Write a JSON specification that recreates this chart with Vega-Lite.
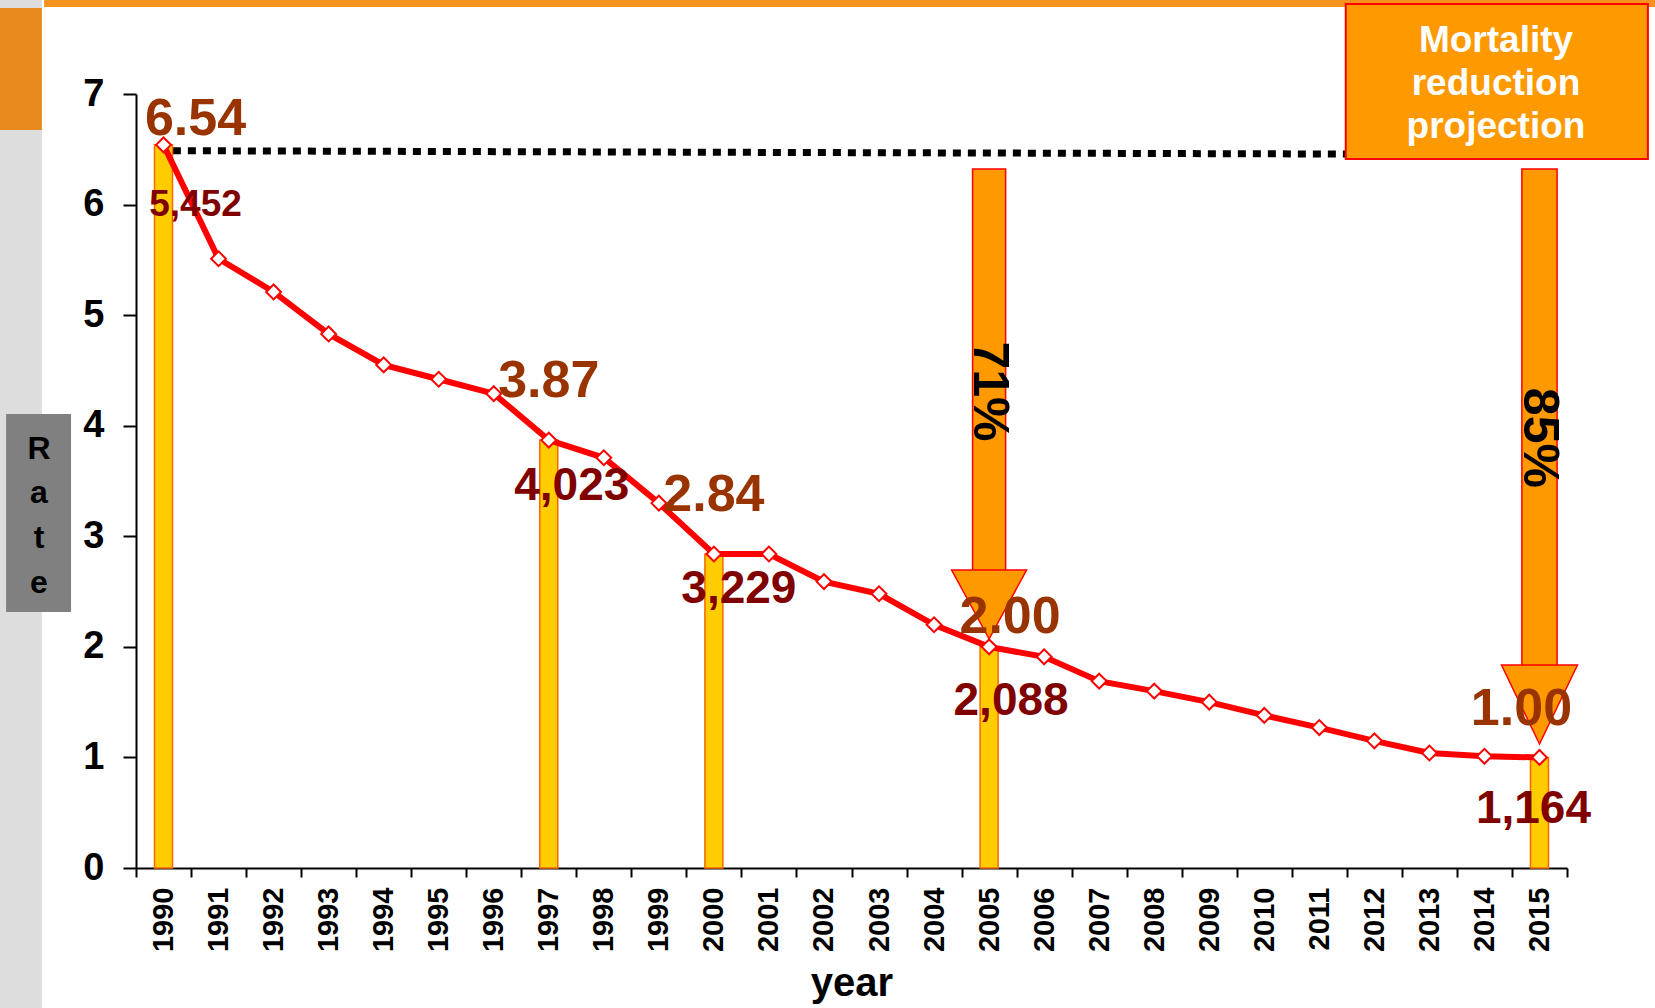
{
  "$schema": "https://vega.github.io/schema/vega-lite/v6.json",
  "width": 1431,
  "height": 774,
  "autosize": {"type": "none"},
  "padding": {"left": 136, "top": 94, "right": 88, "bottom": 140},
  "background": "#ffffff",
  "config": {"view": {"stroke": null}, "font": "Liberation Sans"},
  "datasets": {
    "rates": [
      {"year": 1990, "rate": 6.54}, {"year": 1991, "rate": 5.51}, {"year": 1992, "rate": 5.21},
      {"year": 1993, "rate": 4.83}, {"year": 1994, "rate": 4.55}, {"year": 1995, "rate": 4.42},
      {"year": 1996, "rate": 4.29}, {"year": 1997, "rate": 3.87}, {"year": 1998, "rate": 3.71},
      {"year": 1999, "rate": 3.30}, {"year": 2000, "rate": 2.84}, {"year": 2001, "rate": 2.84},
      {"year": 2002, "rate": 2.59}, {"year": 2003, "rate": 2.48}, {"year": 2004, "rate": 2.20},
      {"year": 2005, "rate": 2.00}, {"year": 2006, "rate": 1.91}, {"year": 2007, "rate": 1.69},
      {"year": 2008, "rate": 1.60}, {"year": 2009, "rate": 1.50}, {"year": 2010, "rate": 1.38},
      {"year": 2011, "rate": 1.27}, {"year": 2012, "rate": 1.15}, {"year": 2013, "rate": 1.04},
      {"year": 2014, "rate": 1.01}, {"year": 2015, "rate": 1.00}
    ],
    "highlights": [
      {"year": 1990, "rate": 6.54, "deaths": 5452},
      {"year": 1997, "rate": 3.87, "deaths": 4023},
      {"year": 2000, "rate": 2.84, "deaths": 3229},
      {"year": 2005, "rate": 2.00, "deaths": 2088},
      {"year": 2015, "rate": 1.00, "deaths": 1164}
    ]
  },
  "layer": [
    {
      "data": {"values": [{}]},
      "layer": [
        {"mark": {"type": "rect", "fill": "#dddddd", "clip": false},
         "encoding": {
           "x": {"datum": 1987.0, "type": "quantitative", "scale": {"domain": [1989.5, 2015.5], "nice": false, "zero": false}, "axis": null},
           "x2": {"datum": 1987.79},
           "y": {"datum": 7.9, "type": "quantitative", "scale": {"domain": [0, 7], "nice": false}, "axis": null},
           "y2": {"datum": -1.3}}},
        {"mark": {"type": "rect", "fill": "#e98a1e", "clip": false},
         "encoding": {
           "x": {"datum": 1987.0, "type": "quantitative", "scale": {"domain": [1989.5, 2015.5], "nice": false, "zero": false}, "axis": null},
           "x2": {"datum": 1987.79},
           "y": {"datum": 7.778, "type": "quantitative", "scale": {"domain": [0, 7], "nice": false}, "axis": null},
           "y2": {"datum": 6.675}}},
        {"mark": {"type": "rect", "fill": "#f5931f", "clip": false},
         "encoding": {
           "x": {"datum": 1987.83, "type": "quantitative", "scale": {"domain": [1989.5, 2015.5], "nice": false, "zero": false}, "axis": null},
           "x2": {"datum": 2017.3},
           "y": {"datum": 7.9, "type": "quantitative", "scale": {"domain": [0, 7], "nice": false}, "axis": null},
           "y2": {"datum": 7.787}}},
        {"mark": {"type": "rect", "fill": "#808080", "clip": false},
         "encoding": {
           "x": {"datum": 1987.14, "type": "quantitative", "scale": {"domain": [1989.5, 2015.5], "nice": false, "zero": false}, "axis": null},
           "x2": {"datum": 1988.32},
           "y": {"datum": 4.106, "type": "quantitative", "scale": {"domain": [0, 7], "nice": false}, "axis": null},
           "y2": {"datum": 2.315}}},
        {"mark": {"type": "rule", "color": "#000000", "strokeWidth": 7, "strokeDash": [8, 7], "strokeCap": "butt", "clip": false},
         "encoding": {
           "x": {"datum": 1990.17, "type": "quantitative", "scale": {"domain": [1989.5, 2015.5], "nice": false, "zero": false}, "axis": null},
           "x2": {"datum": 2011.5},
           "y": {"datum": 6.487, "type": "quantitative", "scale": {"domain": [0, 7], "nice": false}, "axis": null},
           "y2": {"datum": 6.457}}},
        {"mark": {"type": "rect", "fill": "#ff9900", "stroke": "#ff0000", "strokeWidth": 2, "clip": false},
         "encoding": {
           "x": {"datum": 2011.48, "type": "quantitative", "scale": {"domain": [1989.5, 2015.5], "nice": false, "zero": false}, "axis": null},
           "x2": {"datum": 2016.97},
           "y": {"datum": 6.412, "type": "quantitative", "scale": {"domain": [0, 7], "nice": false}, "axis": null},
           "y2": {"datum": 7.814}}},
        {"mark": {"type": "text", "color": "#ffffff", "fontSize": 37, "fontWeight": "bold", "align": "center", "baseline": "alphabetic", "lineHeight": 43, "clip": false},
         "encoding": {
           "x": {"datum": 2014.21, "type": "quantitative", "scale": {"domain": [1989.5, 2015.5], "nice": false, "zero": false}, "axis": null},
           "y": {"datum": 7.38, "type": "quantitative", "scale": {"domain": [0, 7], "nice": false}, "axis": null},
           "text": {"value": ["Mortality", "reduction", "projection"]}}},
        {"mark": {"type": "rect", "fill": "#ff9900", "stroke": "#ff0000", "strokeWidth": 1.5},
         "encoding": {
           "x": {"datum": 2004.7, "type": "quantitative", "scale": {"domain": [1989.5, 2015.5], "nice": false, "zero": false}, "axis": null},
           "x2": {"datum": 2005.3},
           "y": {"datum": 6.322, "type": "quantitative", "scale": {"domain": [0, 7], "nice": false}, "axis": null},
           "y2": {"datum": 2.5}}},
        {"mark": {"type": "point", "filled": true, "fill": "#ff9900", "stroke": "#ff0000", "strokeWidth": 1.5, "opacity": 1, "shape": "M0,0L-1,-1.84L1,-1.84Z", "size": 5625},
         "encoding": {
           "x": {"datum": 2005, "type": "quantitative", "scale": {"domain": [1989.5, 2015.5], "nice": false, "zero": false}, "axis": null},
           "y": {"datum": 2.071, "type": "quantitative", "scale": {"domain": [0, 7], "nice": false}, "axis": null}}},
        {"mark": {"type": "rect", "fill": "#ff9900", "stroke": "#ff0000", "strokeWidth": 1.5},
         "encoding": {
           "x": {"datum": 2014.68, "type": "quantitative", "scale": {"domain": [1989.5, 2015.5], "nice": false, "zero": false}, "axis": null},
           "x2": {"datum": 2015.32},
           "y": {"datum": 6.322, "type": "quantitative", "scale": {"domain": [0, 7], "nice": false}, "axis": null},
           "y2": {"datum": 1.65}}},
        {"mark": {"type": "point", "filled": true, "fill": "#ff9900", "stroke": "#ff0000", "strokeWidth": 1.5, "opacity": 1, "shape": "M0,0L-1,-2.08L1,-2.08Z", "size": 5776},
         "encoding": {
           "x": {"datum": 2015, "type": "quantitative", "scale": {"domain": [1989.5, 2015.5], "nice": false, "zero": false}, "axis": null},
           "y": {"datum": 1.121, "type": "quantitative", "scale": {"domain": [0, 7], "nice": false}, "axis": null}}},
        {"mark": {"type": "text", "color": "#000000", "fontSize": 50, "fontWeight": "bold", "align": "center", "baseline": "middle", "angle": 90},
         "encoding": {
           "x": {"datum": 2005, "type": "quantitative", "scale": {"domain": [1989.5, 2015.5], "nice": false, "zero": false}, "axis": null},
           "y": {"datum": 4.31, "type": "quantitative", "scale": {"domain": [0, 7], "nice": false}, "axis": null},
           "text": {"value": "71%"}}},
        {"mark": {"type": "text", "color": "#000000", "fontSize": 50, "fontWeight": "bold", "align": "center", "baseline": "middle", "angle": 90},
         "encoding": {
           "x": {"datum": 2015, "type": "quantitative", "scale": {"domain": [1989.5, 2015.5], "nice": false, "zero": false}, "axis": null},
           "y": {"datum": 3.89, "type": "quantitative", "scale": {"domain": [0, 7], "nice": false}, "axis": null},
           "text": {"value": "85%"}}}
      ]
    },
    {
      "encoding": {
        "x": {"field": "year", "type": "ordinal",
              "scale": {"type": "band", "paddingInner": 0, "paddingOuter": 0},
              "axis": {"title": "year", "titleFontSize": 40, "titleFontWeight": "bold", "titleColor": "#000000",
                       "titleY": 127, "titleBaseline": "alphabetic",
                       "labelAngle": 270, "labelFontSize": 29, "labelFontWeight": "bold", "labelColor": "#000000",
                       "labelPadding": 10, "tickBand": "extent", "tickSize": 9, "tickColor": "#000000", "tickWidth": 2,
                       "domainColor": "#000000", "domainWidth": 2, "grid": false}},
        "y": {"field": "rate", "type": "quantitative",
              "scale": {"domain": [0, 7], "nice": false},
              "axis": {"title": ["R", "a", "t", "e"], "titleAngle": 0, "titleFontSize": 32, "titleFontWeight": "bold",
                       "titleColor": "#000000", "titleX": -97.5, "titleY": 364, "titleAlign": "center",
                       "titleBaseline": "alphabetic", "titleLineHeight": 44.7,
                       "values": [0, 1, 2, 3, 4, 5, 6, 7], "labelFontSize": 38, "labelFontWeight": "bold",
                       "labelColor": "#000000", "labelPadding": 19, "tickSize": 13, "tickColor": "#000000",
                       "tickWidth": 2, "domainColor": "#000000", "domainWidth": 2, "grid": false, "zindex": 1}}
      },
      "layer": [
        {"data": {"name": "highlights"},
         "mark": {"type": "bar", "size": 18, "fill": "#ffcc00", "stroke": "#ff6600", "strokeWidth": 1.5}},
        {"data": {"name": "rates"},
         "mark": {"type": "line", "color": "#ff0000", "strokeWidth": 6}},
        {"data": {"name": "rates"},
         "mark": {"type": "point", "shape": "diamond", "filled": true, "fill": "#ffffff", "stroke": "#ff0000", "strokeWidth": 2, "size": 220, "opacity": 1}},
        {"data": {"name": "highlights"}, "transform": [{"filter": "datum.year == 1990"}],
         "mark": {"type": "text", "color": "#993300", "fontSize": 52, "fontWeight": "bold", "align": "center", "baseline": "alphabetic", "dx": 32, "dy": -10},
         "encoding": {"text": {"field": "rate", "format": ".2f"}}},
        {"data": {"name": "highlights"}, "transform": [{"filter": "datum.year == 1997 || datum.year == 2000"}],
         "mark": {"type": "text", "color": "#993300", "fontSize": 52, "fontWeight": "bold", "align": "center", "baseline": "alphabetic", "dx": 0, "dy": -43},
         "encoding": {"text": {"field": "rate", "format": ".2f"}}},
        {"data": {"name": "highlights"}, "transform": [{"filter": "datum.year == 2005"}],
         "mark": {"type": "text", "color": "#993300", "fontSize": 52, "fontWeight": "bold", "align": "center", "baseline": "alphabetic", "dx": 21, "dy": -14},
         "encoding": {"text": {"field": "rate", "format": ".2f"}}},
        {"data": {"name": "highlights"}, "transform": [{"filter": "datum.year == 2015"}],
         "mark": {"type": "text", "color": "#993300", "fontSize": 52, "fontWeight": "bold", "align": "center", "baseline": "alphabetic", "dx": -18, "dy": -32},
         "encoding": {"text": {"field": "rate", "format": ".2f"}}},
        {"data": {"name": "highlights"}, "transform": [{"filter": "datum.year == 1990"}],
         "mark": {"type": "text", "color": "#800000", "fontSize": 37, "fontWeight": "bold", "align": "center", "baseline": "alphabetic", "dx": 32, "dy": 71},
         "encoding": {"text": {"field": "deaths", "format": ","}}},
        {"data": {"name": "highlights"}, "transform": [{"filter": "datum.year == 1997"}],
         "mark": {"type": "text", "color": "#800000", "fontSize": 46, "fontWeight": "bold", "align": "center", "baseline": "alphabetic", "dx": 23, "dy": 60},
         "encoding": {"text": {"field": "deaths", "format": ","}}},
        {"data": {"name": "highlights"}, "transform": [{"filter": "datum.year == 2000"}],
         "mark": {"type": "text", "color": "#800000", "fontSize": 46, "fontWeight": "bold", "align": "center", "baseline": "alphabetic", "dx": 25, "dy": 49},
         "encoding": {"text": {"field": "deaths", "format": ","}}},
        {"data": {"name": "highlights"}, "transform": [{"filter": "datum.year == 2005"}],
         "mark": {"type": "text", "color": "#800000", "fontSize": 46, "fontWeight": "bold", "align": "center", "baseline": "alphabetic", "dx": 22, "dy": 68},
         "encoding": {"text": {"field": "deaths", "format": ","}}},
        {"data": {"name": "highlights"}, "transform": [{"filter": "datum.year == 2015"}],
         "mark": {"type": "text", "color": "#800000", "fontSize": 46, "fontWeight": "bold", "align": "center", "baseline": "alphabetic", "dx": -6, "dy": 66},
         "encoding": {"text": {"field": "deaths", "format": ","}}}
      ]
    }
  ],
  "resolve": {"scale": {"x": "independent", "y": "independent"}}
}
